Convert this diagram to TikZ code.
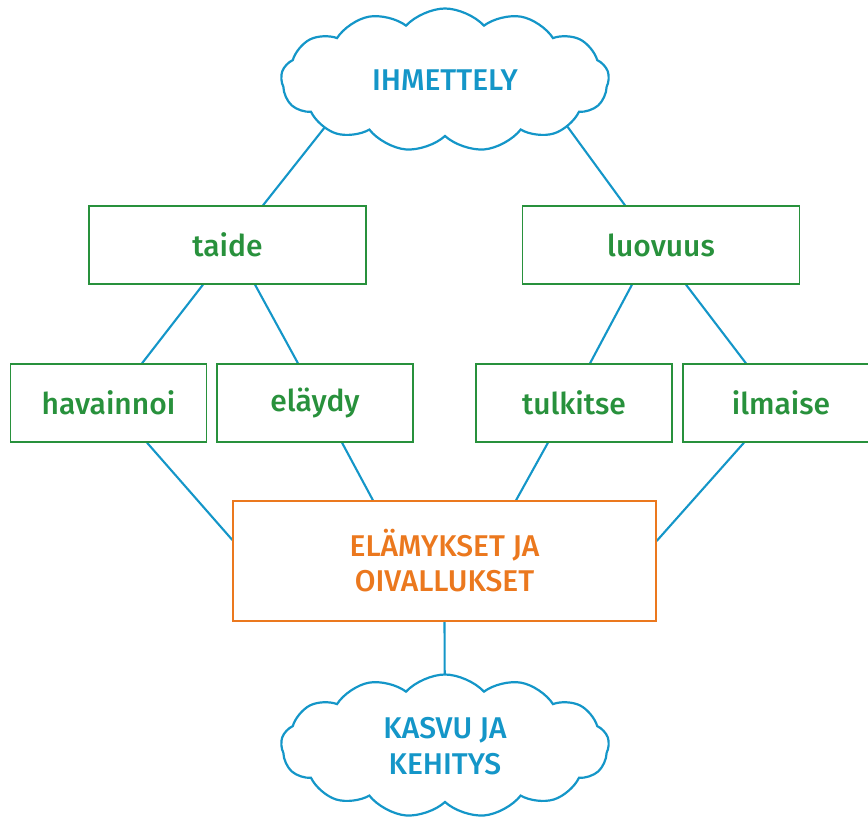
\documentclass[tikz,border=0pt]{standalone}
\usepackage{fontspec}
\setmainfont{Fira Sans}[UprightFont=* Medium]
\usetikzlibrary{shapes.symbols,calc,backgrounds}
\definecolor{cblue}{RGB}{20,150,200}
\definecolor{cgreen}{RGB}{40,145,60}
\definecolor{corange}{RGB}{235,120,30}
\tikzset{
  cloudnode/.style={cloud, cloud puffs=13, cloud puff arc=95, cloud ignores aspect, draw=cblue, line width=2.2pt, fill=white, minimum width=328pt, minimum height=143pt, inner sep=0pt, text=cblue, font=\fontsize{30}{36}\selectfont, align=center},
  greenbox/.style={rectangle, draw=cgreen, line width=1.3pt, fill=white, minimum width=277pt, minimum height=78pt, inner sep=0pt, text=cgreen, font=\fontsize{30}{34}\selectfont},
  smallbox/.style={greenbox, minimum width=196pt},
  orangebox/.style={rectangle, draw=corange, line width=1.3pt, fill=white, minimum width=423pt, minimum height=120pt, inner sep=0pt, text=corange, font=\fontsize{30}{35}\selectfont, align=center},
  link/.style={draw=cblue, line width=2.1pt}
}
\begin{document}
\begin{tikzpicture}[x=1pt,y=-1pt]
\useasboundingbox (0,0) rectangle (868,818);
\node[cloudnode] (ihm) at (445,80) {IHMETTELY};
\node[greenbox] (taide) at (227.5,245) {taide};
\node[greenbox] (luovuus) at (661,245) {luovuus};
\node[smallbox] (hav) at (108.5,403) {havainnoi};
\node[smallbox] (ela) at (315,403) {eläydy};
\node[smallbox] (tul) at (574,403) {tulkitse};
\node[smallbox] (ilm) at (781,403) {ilmaise};
\node[orangebox] (elam) at (444.5,561) {ELÄMYKSET JA\\OIVALLUKSET};
\node[cloudnode] (kas) at (445,746) {KASVU JA\\KEHITYS};
\begin{scope}[on background layer]
\draw[link] ($(ihm.center)+(-120,47)$) -- ($(taide.north)+(35.5,0)$);
\draw[link] ($(ihm.center)+(122,46)$) -- ($(luovuus.north)+(-36,0)$);
\draw[link] ($(taide.south)+(-24.5,0)$) -- ($(hav.north)+(33.5,0)$);
\draw[link] ($(taide.south)+(27.5,0)$) -- ($(ela.north)+(-17,0)$);
\draw[link] ($(luovuus.south)+(-29,0)$) -- ($(tul.north)+(16,0)$);
\draw[link] ($(luovuus.south)+(25,0)$) -- ($(ilm.north)+(-35,0)$);
\draw[link] ($(hav.south)+(38.5,0)$) -- ($(elam.west)+(0,-21)$);
\draw[link] ($(ela.south)+(27,0)$) -- ($(elam.north)+(-71.5,0)$);
\draw[link] ($(tul.south)+(-26,0)$) -- ($(elam.north)+(71.5,0)$);
\draw[link] ($(ilm.south)+(-37,0)$) -- ($(elam.east)+(0,-20)$);
\draw[link] (elam.south) -- (kas.center);
\end{scope}
\end{tikzpicture}
\end{document}
